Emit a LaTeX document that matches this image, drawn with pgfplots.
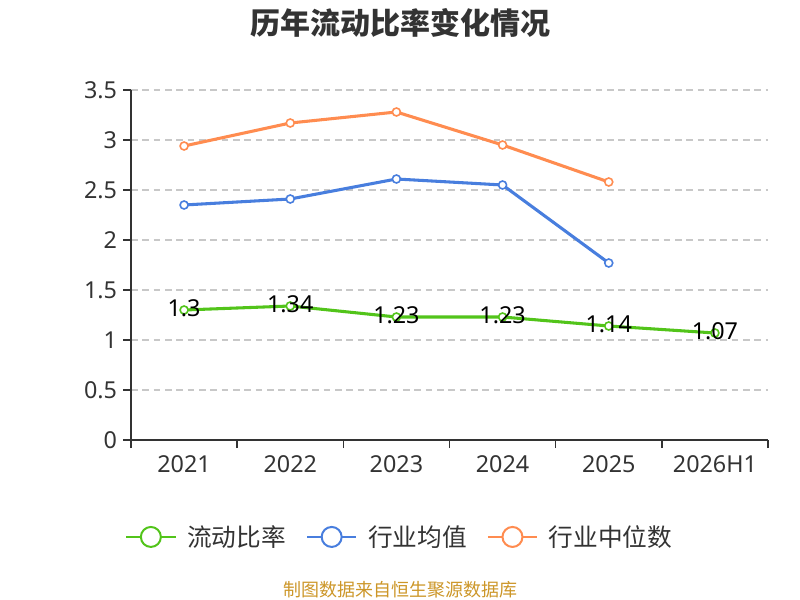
\documentclass[border=0pt]{standalone}
\usepackage{pgfplots}
\pgfplotsset{compat=1.18}
\usepackage{fontspec}
\setmainfont{Noto Sans}
\newfontfamily\cjk{Noto Sans CJK SC}
\definecolor{cgreen}{RGB}{82,196,26}
\definecolor{cblue}{RGB}{72,126,222}
\definecolor{corange}{RGB}{255,140,80}
\definecolor{ctext}{RGB}{51,51,51}
\definecolor{cgrid}{RGB}{200,200,200}
\definecolor{csrc}{RGB}{204,150,40}
\begin{document}
\begin{tikzpicture}
\path[use as bounding box] (0,0) rectangle (600pt,450pt);
\node[font=\cjk\bfseries\fontsize{22.5pt}{25pt}\selectfont, text=ctext] at (300pt,433pt) {历年流动比率变化情况};
\begin{axis}[
  at={(98.25pt,120pt)}, anchor=south west,
  scale only axis, width=477.75pt, height=262.5pt,
  xmin=-0.5, xmax=5.5, ymin=0, ymax=3.5,
  axis x line*=bottom, axis y line*=left,
  axis line style={ctext, line width=1.1pt},
  xtick={0,1,2,3,4,5},
  xticklabels={2021,2022,2023,2024,2025,2026H1},
  major x tick style={draw=none},
  minor xtick={-0.5,0.5,1.5,2.5,3.5,4.5,5.5},
  minor x tick style={ctext, line width=1.1pt},
  minor tick length=6pt,
  ytick={0,0.5,1,1.5,2,2.5,3,3.5},
  yticklabels={0,0.5,1,1.5,2,2.5,3,3.5},
  y tick style={ctext, line width=1.1pt},
  major tick length=6pt,
  tick align=outside,
  ymajorgrids,
  grid style={cgrid, line width=1pt, dash pattern=on 5pt off 3.5pt},
  ticklabel style={font=\fontsize{17.5pt}{20pt}\selectfont, text=ctext},
  xticklabel style={yshift=-2pt},
  yticklabel style={xshift=-1pt},
  /pgf/number format/assume math mode=true,
  clip=false,
  legend columns=3,
  legend style={at={(0.4223,-0.277)}, anchor=center, draw=none, fill=none,
    font=\cjk\fontsize{18.5pt}{21pt}\selectfont, text=ctext,
    /tikz/every odd column/.append style={column sep=6pt},
    /tikz/every even column/.append style={column sep=13pt},
    inner sep=0pt},
  legend image code/.code={
    \draw[line width=1.6pt] (0pt,0pt) -- (37pt,0pt);
    \draw[line width=1.5pt, fill=white] (18.5pt,0pt) circle (7.5pt);
  },
]
\addplot[cgreen, line width=2.3pt, mark=*, mark size=3pt,
  mark options={fill=white, draw=cgreen, line width=1.2pt},
  point meta=explicit symbolic,
  nodes near coords,
  every node near coord/.style={anchor=center, yshift=1pt, text=black, font=\fontsize{17.5pt}{20pt}\selectfont}]
  coordinates {(0,1.30)[1.3] (1,1.34)[1.34] (2,1.23)[1.23] (3,1.23)[1.23] (4,1.14)[1.14] (5,1.07)[1.07]};
\addlegendentry{流动比率}
\addplot[cblue, line width=2.3pt, mark=*, mark size=3pt,
  mark options={fill=white, draw=cblue, line width=1.2pt}]
  coordinates {(0,2.35) (1,2.41) (2,2.61) (3,2.55) (4,1.77)};
\addlegendentry{行业均值}
\addplot[corange, line width=2.3pt, mark=*, mark size=3pt,
  mark options={fill=white, draw=corange, line width=1.2pt}]
  coordinates {(0,2.94) (1,3.17) (2,3.28) (3,2.95) (4,2.58)};
\addlegendentry{行业中位数}
\end{axis}
\node[font=\cjk\fontsize{13.5pt}{16pt}\selectfont, text=csrc] at (300pt,8pt) {制图数据来自恒生聚源数据库};
\end{tikzpicture}
\end{document}
